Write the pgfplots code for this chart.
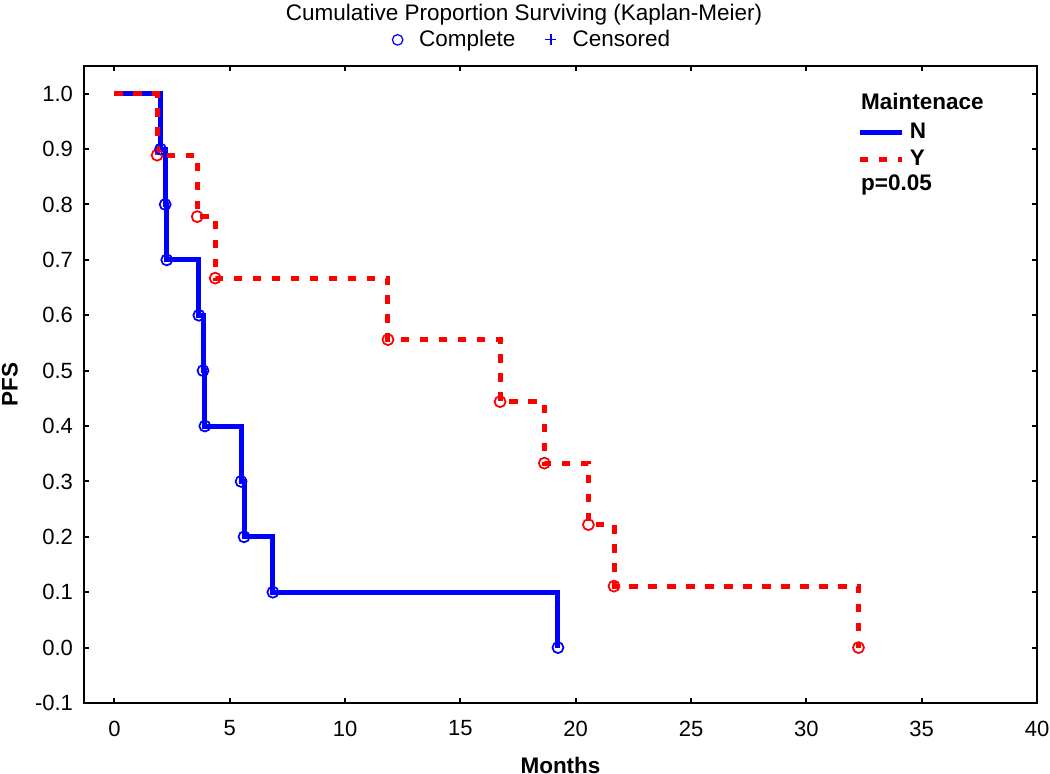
\documentclass[border=0pt]{standalone}
\usepackage{fontspec}
\setmainfont{Liberation Sans}
\usepackage{pgfplots}
\usepackage{pgfplotstable}
\pgfplotsset{compat=1.18}

% Kaplan-Meier steps: time (months), survival after event
\pgfplotstableread{
t s
0 1.0
2.0 0.9
2.2 0.8
2.27 0.7
3.66 0.6
3.84 0.5
3.92 0.4
5.49 0.3
5.62 0.2
6.87 0.1
19.23 0.0
}\tblN

\pgfplotstableread{
t s
0 1.0
1.85 0.889
3.59 0.778
4.37 0.667
11.86 0.556
16.72 0.444
18.64 0.333
20.55 0.222
21.66 0.111
32.26 0.0
}\tblY

\definecolor{kmblue}{RGB}{0,0,255}
\definecolor{kmred}{RGB}{255,0,0}

\begin{document}
\begin{tikzpicture}
% page frame: 1050 x 774 px at 0.4pt per px, axis box at (84,66)-(1037,703)
\path[use as bounding box] (-33.6pt,-28.4pt) rectangle (386.4pt,281.2pt);

\begin{axis}[
  at={(0,0)}, anchor=south west,
  scale only axis,
  width=381.2pt, height=254.8pt,
  xmin=-1.32, xmax=40,
  ymin=-0.1, ymax=1.05,
  xtick={0,5,...,40},
  ytick={-0.1,0,0.1,0.2,0.3,0.4,0.5,0.6,0.7,0.8,0.9,1.0},
  tick align=inside,
  major tick length=2pt,
  axis line style={line width=1pt},
  every tick/.style={black, line width=0.8pt},
  /pgf/number format/assume math mode=true,
  yticklabel={\pgfmathprintnumber[fixed, fixed zerofill, precision=1]{\tick}},
  ticklabel style={font=\fontsize{8.8}{10}\selectfont},
  xticklabel style={yshift=-3.6pt},
  yticklabel style={xshift=-0.9pt},
  xlabel={\textbf{Months}},
  ylabel={\textbf{PFS}},
  label style={font=\fontsize{9}{11}\selectfont},
  xlabel style={at={(axis description cs:0.5,0)}, anchor=center, yshift=-24.8pt},
  ylabel style={at={(axis description cs:0,0.5)}, anchor=center, yshift=29.6pt},
  legend style={draw=none, fill=none, at={(0.803,0.927)}, anchor=north west,
    font=\fontsize{9}{11}\selectfont\bfseries, row sep=-1pt},
  legend cell align=left,
  clip=false,
]
\addplot[kmblue, line width=2pt, const plot, forget plot] table[x=t, y=s] {\tblN};
\addplot[kmred, line width=2pt, dash pattern=on 3.4pt off 4.2pt, const plot, forget plot] table[x=t, y=s] {\tblY};
\addplot[kmred, only marks, mark=o, mark size=2.2pt, mark options={solid, fill=white, line width=0.7pt}, skip coords between index={0}{1}, forget plot] table[x=t, y=s] {\tblY};
\addplot[kmblue, only marks, mark=o, mark size=2.2pt, mark options={line width=0.7pt}, skip coords between index={0}{1}, forget plot] table[x=t, y=s] {\tblN};

\addlegendimage{kmblue, line width=2pt}
\addlegendentry{N}
\addlegendimage{kmred, line width=2pt, dash pattern=on 3.4pt off 4.2pt}
\addlegendentry{Y}

\node[anchor=west, inner sep=0pt, font=\fontsize{9}{11}\selectfont\bfseries] at (rel axis cs:0.815,0.945) {Maintenace};
\node[anchor=west, inner sep=0pt, font=\fontsize{9}{11}\selectfont\bfseries] at (rel axis cs:0.815,0.813) {p=0.05};
\node[anchor=center, font=\fontsize{9}{11}\selectfont] at (rel axis cs:0.4617,1.08) {Cumulative Proportion Surviving (Kaplan-Meier)};
\end{axis}

\begin{axis}[
  at={(0,0)}, anchor=south west,
  scale only axis,
  width=381.2pt, height=254.8pt,
  xmin=0, xmax=1, ymin=0, ymax=1,
  hide axis,
  legend columns=2,
  legend style={draw=none, fill=none, at={(0.472,1.041)}, anchor=center,
    font=\fontsize{9}{11}\selectfont,
    /tikz/every odd column/.append style={column sep=4.5pt},
    /tikz/every even column/.append style={column sep=10pt}},
]
\addlegendimage{only marks, mark=o, kmblue, mark size=2.1pt, mark options={line width=0.5pt}}
\addlegendentry{Complete}
\addlegendimage{only marks, mark=+, kmblue, mark size=2.2pt, mark options={line width=0.5pt}}
\addlegendentry{Censored}
\end{axis}
\end{tikzpicture}
\end{document}
